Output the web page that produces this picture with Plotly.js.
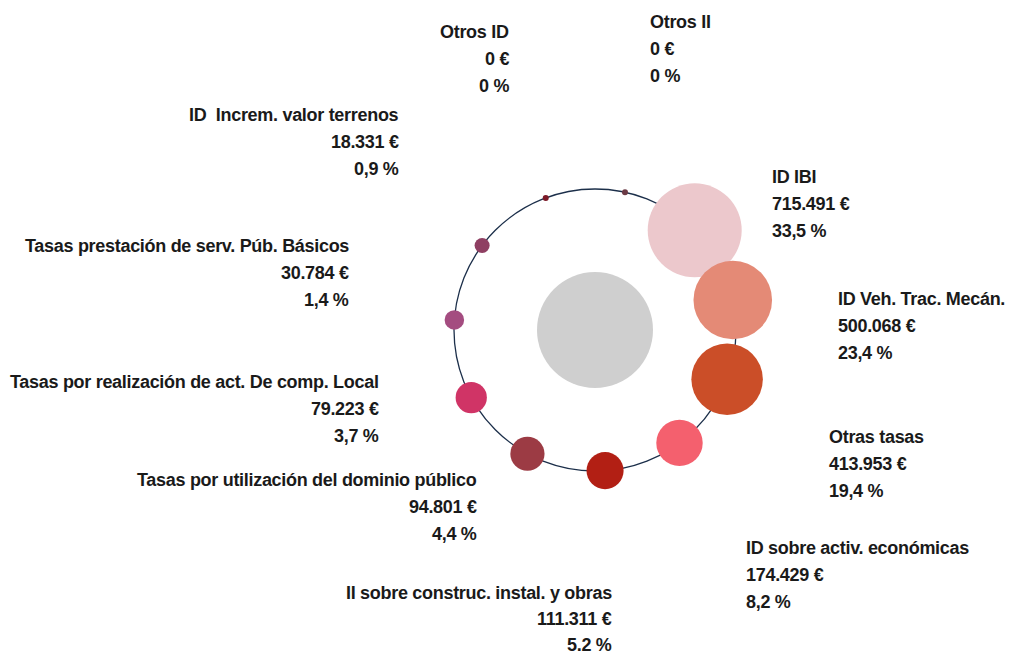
<!DOCTYPE html>
<html>
<head>
<meta charset="utf-8">
<script src="https://cdn.plot.ly/plotly-3.0.1.min.js"></script>
<style>
  html, body { margin: 0; padding: 0; background: #ffffff; }
  #chart { width: 1013px; height: 657px; }
  .annotation-text { letter-spacing: -0.3px; }
</style>
</head>
<body>
<div id="chart"></div>
<script>
// ---- data ----
var categories = [
  "ID IBI",
  "ID Veh. Trac. Mecán.",
  "Otras tasas",
  "ID sobre activ. económicas",
  "II sobre construc. instal. y obras",
  "Tasas por utilización del dominio público",
  "Tasas por realización de act. De comp. Local",
  "Tasas prestación de serv. Púb. Básicos",
  "ID  Increm. valor terrenos",
  "Otros ID",
  "Otros II"
];
var amounts = [715491, 500068, 413953, 174429, 111311, 94801, 79223, 30784, 18331, 0, 0];
var percentLabels = ["33,5 %", "23,4 %", "19,4 %", "8,2 %", "5.2 %", "4,4 %", "3,7 %", "1,4 %", "0,9 %", "0 %", "0 %"];

// ---- styling / layout constants ----
var colors = ["#ecc8cc", "#e48a76", "#cb4e28", "#f4606e", "#b21f14", "#9c3b44",
              "#d03466", "#a44c80", "#8f3f62", "#7c1a28", "#6b3a45"];
// label anchor: [x, y of first line, side]
var labelAnchors = [
  [771, 176.5, "left"],
  [837, 298.5, "left"],
  [828, 437, "left"],
  [745, 548, "left"],
  [613, 593, "right"],
  [478, 480, "right"],
  [380, 381.5, "right"],
  [350, 245.5, "right"],
  [400, 115, "right"],
  [510, 32, "right"],
  [649, 22, "left"]
];
var CX = 595, CY = 330, R = 141, CENTER_R = 58;
var MAX_D = 94, MIN_D = 6, START_ANGLE = 45, LINE_GAP = 27;

function fmtEuro(v) {
  var s = String(Math.round(v));
  var out = "";
  while (s.length > 3) { out = "." + s.slice(-3) + out; s = s.slice(0, -3); }
  return s + out + " €";
}

var n = categories.length;
var vmax = Math.max.apply(null, amounts);
var xs = [], ys = [], sizes = [];
for (var i = 0; i < n; i++) {
  var a = (START_ANGLE + i * 360 / n) * Math.PI / 180;
  xs.push(CX + R * Math.sin(a));
  ys.push(CY - R * Math.cos(a));
  sizes.push(Math.max(MIN_D, MAX_D * Math.sqrt(amounts[i] / vmax)));
}

var bubbles = {
  type: "scatter",
  mode: "markers",
  x: xs,
  y: ys,
  text: categories,
  hoverinfo: "text",
  marker: { size: sizes, sizemode: "diameter", color: colors, opacity: 1, line: { width: 0 } },
  showlegend: false
};

var annotations = [];
var font = { family: "'Liberation Sans', Arial, sans-serif", size: 18, color: "#1a1a1a", weight: "bold" };
for (var j = 0; j < n; j++) {
  var lines = [categories[j], fmtEuro(amounts[j]), percentLabels[j]];
  for (var k = 0; k < 3; k++) {
    annotations.push({
      x: labelAnchors[j][0],
      y: labelAnchors[j][1] + k * (j === 4 ? LINE_GAP - 1 : LINE_GAP),
      xref: "x", yref: "y",
      text: lines[k],
      showarrow: false,
      xanchor: labelAnchors[j][2],
      yanchor: "middle",
      align: labelAnchors[j][2],
      font: font,
      borderpad: 0
    });
  }
}

var shapes = [
  { type: "circle", xref: "x", yref: "y", layer: "below",
    x0: CX - R, x1: CX + R, y0: CY - R, y1: CY + R,
    line: { color: "#1c2f4a", width: 1.3 }, fillcolor: "rgba(0,0,0,0)" },
  { type: "circle", xref: "x", yref: "y", layer: "below",
    x0: CX - CENTER_R, x1: CX + CENTER_R, y0: CY - CENTER_R, y1: CY + CENTER_R,
    line: { width: 0 }, fillcolor: "#cfcfcf" }
];

var layout = {
  width: 1013, height: 657,
  margin: { l: 0, r: 0, t: 0, b: 0, pad: 0 },
  paper_bgcolor: "#ffffff", plot_bgcolor: "#ffffff",
  xaxis: { range: [0, 1013], visible: false, fixedrange: true },
  yaxis: { range: [657, 0], visible: false, fixedrange: true },
  shapes: shapes,
  annotations: annotations,
  showlegend: false,
  hovermode: "closest"
};

Plotly.newPlot("chart", [bubbles], layout, { displayModeBar: false, staticPlot: false });
</script>
</body>
</html>
